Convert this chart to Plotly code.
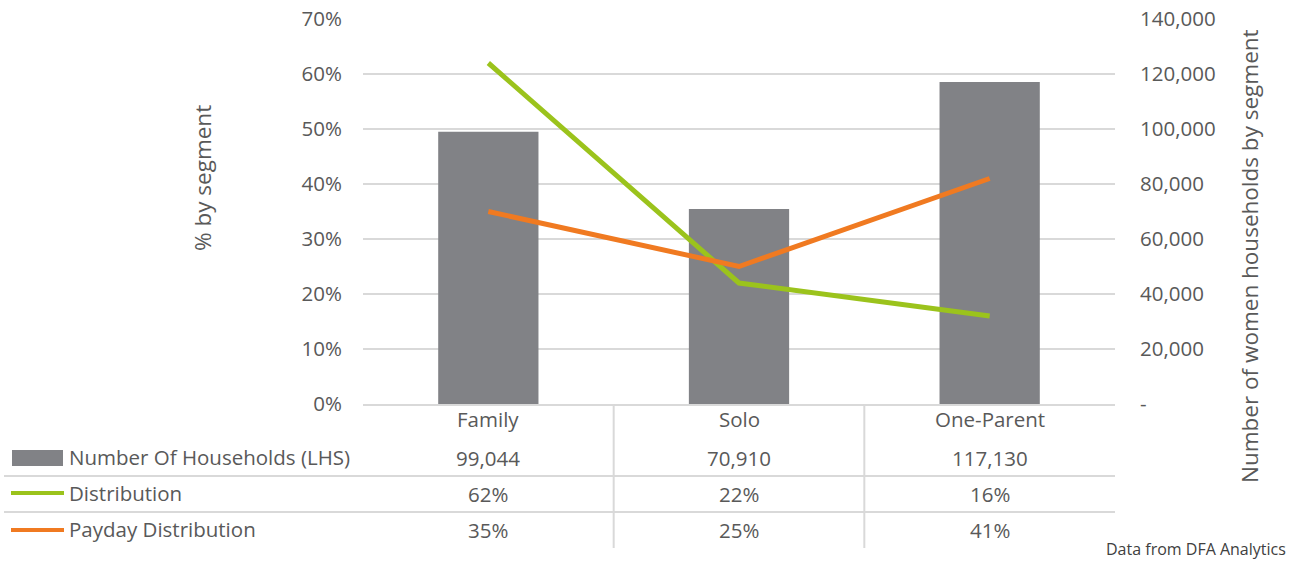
import plotly.graph_objects as go

categories = ["Family", "Solo", "One-Parent"]
households = [99044, 70910, 117130]
distribution = [0.62, 0.22, 0.16]
payday = [0.35, 0.25, 0.41]

hh_ticks = [0, 20000, 40000, 60000, 80000, 100000, 120000, 140000]
hh_ticktext = ["-", "20,000", "40,000", "60,000", "80,000", "100,000", "120,000", "140,000"]

row_names = ["Number Of Households (LHS)", "Distribution", "Payday Distribution"]

W, H = 1300, 561
GRAY = "#818286"
GREEN = "#9BC31C"
ORANGE = "#F07A21"
TXT = "#595959"
GRID = "#D9D9D9"
FONT = "Open Sans"
FS = 20.5


def px(x):
    return x / W


def py(y):
    return 1 - y / H


fig = go.Figure()
fig.add_trace(go.Bar(x=categories, y=households, name=row_names[0],
                     marker=dict(color=GRAY, line=dict(width=0)), width=0.4,
                     yaxis="y"))
fig.add_trace(go.Scatter(x=categories, y=distribution, name=row_names[1],
                         mode="lines", line=dict(color=GREEN, width=5),
                         yaxis="y2"))
fig.add_trace(go.Scatter(x=categories, y=payday, name=row_names[2],
                         mode="lines", line=dict(color=ORANGE, width=5),
                         yaxis="y2"))

x_dom = [px(363), px(1115)]
y_dom = [py(404), py(19)]

fig.update_layout(
    width=W, height=H,
    margin=dict(l=0, r=0, t=0, b=0, pad=0, autoexpand=False),
    paper_bgcolor="white", plot_bgcolor="white",
    showlegend=False,
    font=dict(family=FONT, size=FS, color=TXT),
    xaxis=dict(domain=x_dom, range=[-0.5, 2.5], showticklabels=False,
               showgrid=False, zeroline=False, showline=True, automargin=False,
               linecolor=GRID, linewidth=2, ticks=""),
    yaxis=dict(domain=y_dom, range=[0, 140000], side="right", automargin=False,
               tickvals=hh_ticks, ticktext=hh_ticktext,
               showgrid=True, gridcolor=GRID, gridwidth=2, zeroline=False,
               showline=False, ticks="", ticklabelstandoff=24,
               tickfont=dict(size=FS, color=TXT)),
    yaxis2=dict(range=[0, 0.7], overlaying="y", side="left", anchor="x",
                automargin=False,
                dtick=0.1, tickformat=".0%", showgrid=False, zeroline=False,
                showline=False, ticks="", ticklabelstandoff=20,
                tickfont=dict(size=FS, color=TXT)),
    bargap=0.6,
)

annotations = []
# axis titles
annotations.append(dict(text="% by segment", x=px(203), y=py(178), xref="paper",
                        yref="paper", showarrow=False, textangle=-90,
                        font=dict(size=22.5, color=TXT), xanchor="center",
                        yanchor="middle"))
annotations.append(dict(text="Number of women households by segment", x=px(1250),
                        y=py(256), xref="paper", yref="paper", showarrow=False,
                        textangle=-90, font=dict(size=22.5, color=TXT),
                        xanchor="center", yanchor="middle"))
# category labels
for c in categories:
    annotations.append(dict(text=c, x=c, y=py(419), xref="x", yref="paper",
                            showarrow=False, xanchor="center", yanchor="middle",
                            font=dict(size=FS, color=TXT)))
# table rows
row_y = [458, 494, 530]
row_vals = [
    [f"{v:,}" for v in households],
    [f"{round(v * 100)}%" for v in distribution],
    [f"{round(v * 100)}%" for v in payday],
]
for i, name in enumerate(row_names):
    annotations.append(dict(text=name, x=px(67), y=py(row_y[i] - 1), xref="paper",
                            yref="paper", showarrow=False, xanchor="left",
                            yanchor="middle", font=dict(size=FS, color=TXT)))
    for c, v in zip(categories, row_vals[i]):
        annotations.append(dict(text=v, x=c, y=py(row_y[i]), xref="x",
                                yref="paper", showarrow=False, xanchor="center",
                                yanchor="middle", font=dict(size=FS, color=TXT)))
annotations.append(dict(text="Data from DFA Analytics", x=px(1288), y=py(549),
                        xref="paper", yref="paper", showarrow=False,
                        xanchor="right", yanchor="middle",
                        font=dict(size=16, color="#404040")))
fig.update_layout(annotations=annotations)

shapes = []
# legend keys
shapes.append(dict(type="rect", xref="paper", yref="paper", x0=px(12), x1=px(63),
                   y0=py(466), y1=py(450), fillcolor=GRAY, line=dict(width=0)))
shapes.append(dict(type="line", xref="paper", yref="paper", x0=px(11), x1=px(64),
                   y0=py(493), y1=py(493), line=dict(color=GREEN, width=4)))
shapes.append(dict(type="line", xref="paper", yref="paper", x0=px(11), x1=px(64),
                   y0=py(530), y1=py(530), line=dict(color=ORANGE, width=4)))
# table grid
for yy in [476, 512]:
    shapes.append(dict(type="line", xref="paper", yref="paper", x0=px(4), x1=px(1115),
                       y0=py(yy), y1=py(yy), line=dict(color=GRID, width=2)))
for xx in [0.5, 1.5]:
    shapes.append(dict(type="line", xref="x", yref="paper", x0=xx, x1=xx,
                       y0=py(404), y1=py(548), line=dict(color=GRID, width=2)))
fig.update_layout(shapes=shapes)

fig.write_html("out.html")
